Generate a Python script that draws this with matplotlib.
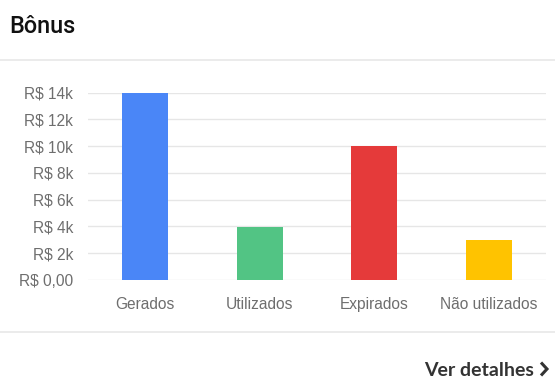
import matplotlib
matplotlib.use("Agg")
import matplotlib.pyplot as plt
from matplotlib.lines import Line2D

categories = ["Gerados", "Utilizados", "Expirados", "Não utilizados"]
values = [13950, 3950, 10000, 3000]
colors = ["#4a86f7", "#52c484", "#e53a3a", "#ffc300"]
yticks = [0, 2000, 4000, 6000, 8000, 10000, 12000, 14000]
ytick_labels = ["R$ 0,00", "R$ 2k", "R$ 4k", "R$ 6k", "R$ 8k", "R$ 10k", "R$ 12k", "R$ 14k"]

W, H = 555, 388
fig = plt.figure(figsize=(W / 100, H / 100), dpi=100)
fig.patch.set_facecolor("white")

# axes: x 88..546, y 92.7..280 (pixels from top)
ax = fig.add_axes([88 / W, 1 - 280 / H, (546 - 88) / W, (280 - 92.7) / H])
ax.set_facecolor("white")
ax.bar(range(len(categories)), values, width=0.4, color=colors, zorder=3)
ax.set_xlim(-0.5, len(categories) - 0.5)
ax.set_ylim(0, 14000)
ax.set_yticks(yticks)
ax.set_yticklabels(ytick_labels)
ax.set_xticks(range(len(categories)))
ax.set_xticklabels(categories)
ax.grid(axis="y", color="#e6e6e6", linewidth=1, zorder=0)
ax.set_axisbelow(True)
for s in ax.spines.values():
    s.set_visible(False)
ax.tick_params(axis="both", length=0, colors="#6e6e6e", labelsize=11.2)
ax.tick_params(axis="y", pad=10.8)
ax.tick_params(axis="x", pad=12.5)
for lab in ax.get_xticklabels() + ax.get_yticklabels():
    lab.set_fontfamily("Liberation Sans")

# title
fig.text(9 / W, 1 - 32.7 / H, "Bônus", fontsize=16.8, fontweight="medium",
         fontfamily="Roboto", color="#111111", va="baseline", ha="left")

# separators
fig.add_artist(Line2D([0, 1], [1 - 60 / H, 1 - 60 / H], color="#e8e8e8", linewidth=1.2))
fig.add_artist(Line2D([0, 1], [1 - 332 / H, 1 - 332 / H], color="#e8e8e8", linewidth=1.2))

# footer link
fig.text(534 / W, 1 - 376 / H, "Ver detalhes", fontsize=14, fontweight="bold",
         fontfamily="Lato", color="#333333", va="baseline", ha="right")
fig.add_artist(Line2D([541 / W, 547 / W, 541 / W],
                      [1 - 362.5 / H, 1 - 369 / H, 1 - 375.5 / H],
                      color="#333333", linewidth=2.2, solid_capstyle="butt",
                      solid_joinstyle="miter"))

fig.savefig("out.png", dpi=100, facecolor="white")
